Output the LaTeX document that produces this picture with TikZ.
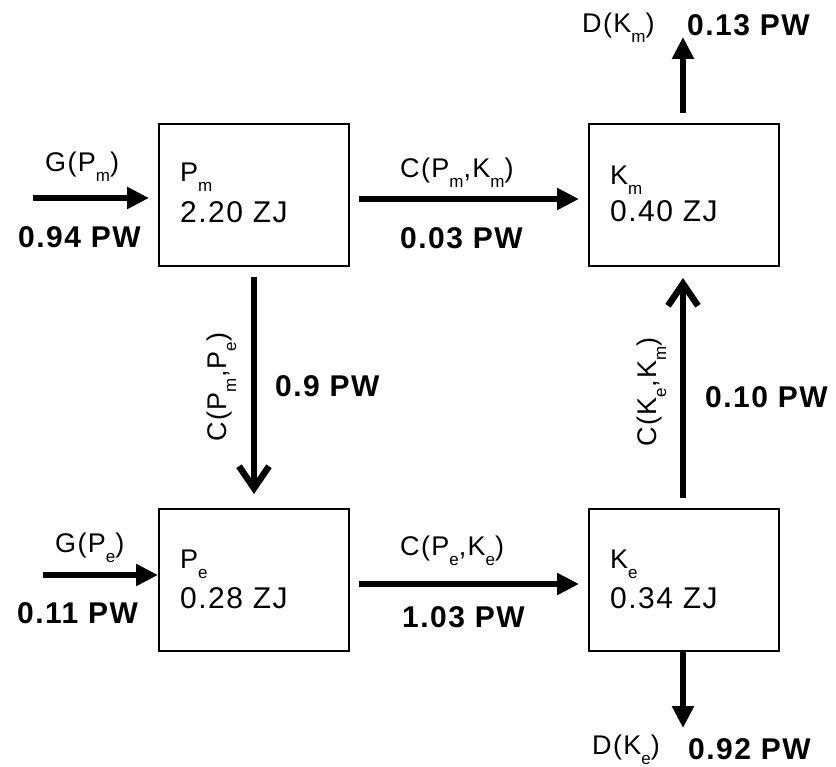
\documentclass[tikz,border=0pt]{standalone}
\usepackage{fontspec}
\setmainfont[LetterSpace=5]{Liberation Sans}
\usetikzlibrary{arrows.meta}
\newcommand\sbs[1]{\raisebox{-10pt}{\fontsize{17}{17}\selectfont #1}}
\begin{document}
\begin{tikzpicture}[x=1pt,y=-1pt,
  box/.style={draw,line width=2pt,minimum width=190pt,minimum height=142pt,inner sep=0pt,anchor=north west},
  lbl/.style={anchor=base west,inner sep=0pt,font=\fontsize{27}{30}\selectfont},
  val/.style={anchor=base west,inner sep=0pt,font=\fontsize{30}{34}\selectfont},
  flux/.style={anchor=base west,inner sep=0pt,font=\fontsize{30}{34}\selectfont\bfseries},
  farrow/.style={line width=6.5pt,-{Triangle[length=22pt,width=21pt]}},
  barrow/.style={line width=6.5pt,-{Straight Barb[length=22pt,width=30pt]}}]
\useasboundingbox (0,0) rectangle (836,767);
% boxes
\node[box] (pm) at (158,123) {};
\node[box] (km) at (588,123) {};
\node[box] (pe) at (158,508) {};
\node[box] (ke) at (588,508) {};
% box texts
\node[lbl] (pmn) at (180,182) {P\sbs{m}};
\node[val] (pmv) at (180,223) {2.20 ZJ};
\node[lbl] (kmn) at (610,185) {K\sbs{m}};
\node[val] (kmv) at (610,222) {0.40 ZJ};
\node[lbl] (pen) at (180,568) {P\sbs{e}};
\node[val] (pev) at (180,608) {0.28 ZJ};
\node[lbl] (ken) at (610,568) {K\sbs{e}};
\node[val] (kev) at (610,608) {0.34 ZJ};
% free ends
\coordinate (gpm) at (33,198);
\coordinate (gpe) at (43,575);
\coordinate (dkm) at (683,37);
\coordinate (dke) at (683,728);
\coordinate (hm) at (0,199);
\coordinate (he) at (0,584);
% arrows
\draw[farrow,shorten >=9pt] (gpm) -- (gpm -| pm.west);
\draw[farrow] (gpe) -- (gpe -| pe.west);
\draw[farrow,shorten <=9pt,shorten >=9pt] (hm -| pm.east) -- (hm -| km.west);
\draw[farrow,shorten <=9pt,shorten >=9pt] (he -| pe.east) -- (he -| ke.west);
\draw[barrow,shorten <=10pt,shorten >=14pt] (pm.south) -- (pe.north);
\draw[barrow,shorten <=10pt,shorten >=11pt] (ke.north -| dkm) -- (km.south -| dkm);
\draw[farrow,shorten <=10pt] (km.north -| dkm) -- (dkm);
\draw[farrow] (ke.south -| dke) -- (dke);
% flux labels
\node[lbl] (lgpm) at (45,172) {G(P\sbs{m})};
\node[flux] (fgpm) at (18,248) {0.94 PW};
\node[lbl] (lgpe) at (55,552) {G(P\sbs{e})};
\node[flux] (fgpe) at (17,623) {0.11 PW};
\node[lbl] (lcpk) at (400,178) {C(P\sbs{m},K\sbs{m})};
\node[flux] (fcpk) at (400,249) {0.03 PW};
\node[lbl] (lcpke) at (400,555) {C(P\sbs{e},K\sbs{e})};
\node[flux] (fcpke) at (402,627) {1.03 PW};
\node[lbl,anchor=base,rotate=90] (lcpp) at (226,387) {C(P\sbs{m},P\sbs{e})};
\node[flux] (fcpp) at (275,397) {0.9 PW};
\node[lbl,anchor=base,rotate=90] (lckk) at (656,392) {C(K\sbs{e},K\sbs{m})};
\node[flux] (fckk) at (705,408) {0.10 PW};
\node[lbl] (ldkm) at (582,33) {D(K\sbs{m})};
\node[flux] (fdkm) at (687,36) {0.13 PW};
\node[lbl] (ldke) at (592,754) {D(K\sbs{e})};
\node[flux] (fdke) at (688,759) {0.92 PW};
\end{tikzpicture}
\end{document}
